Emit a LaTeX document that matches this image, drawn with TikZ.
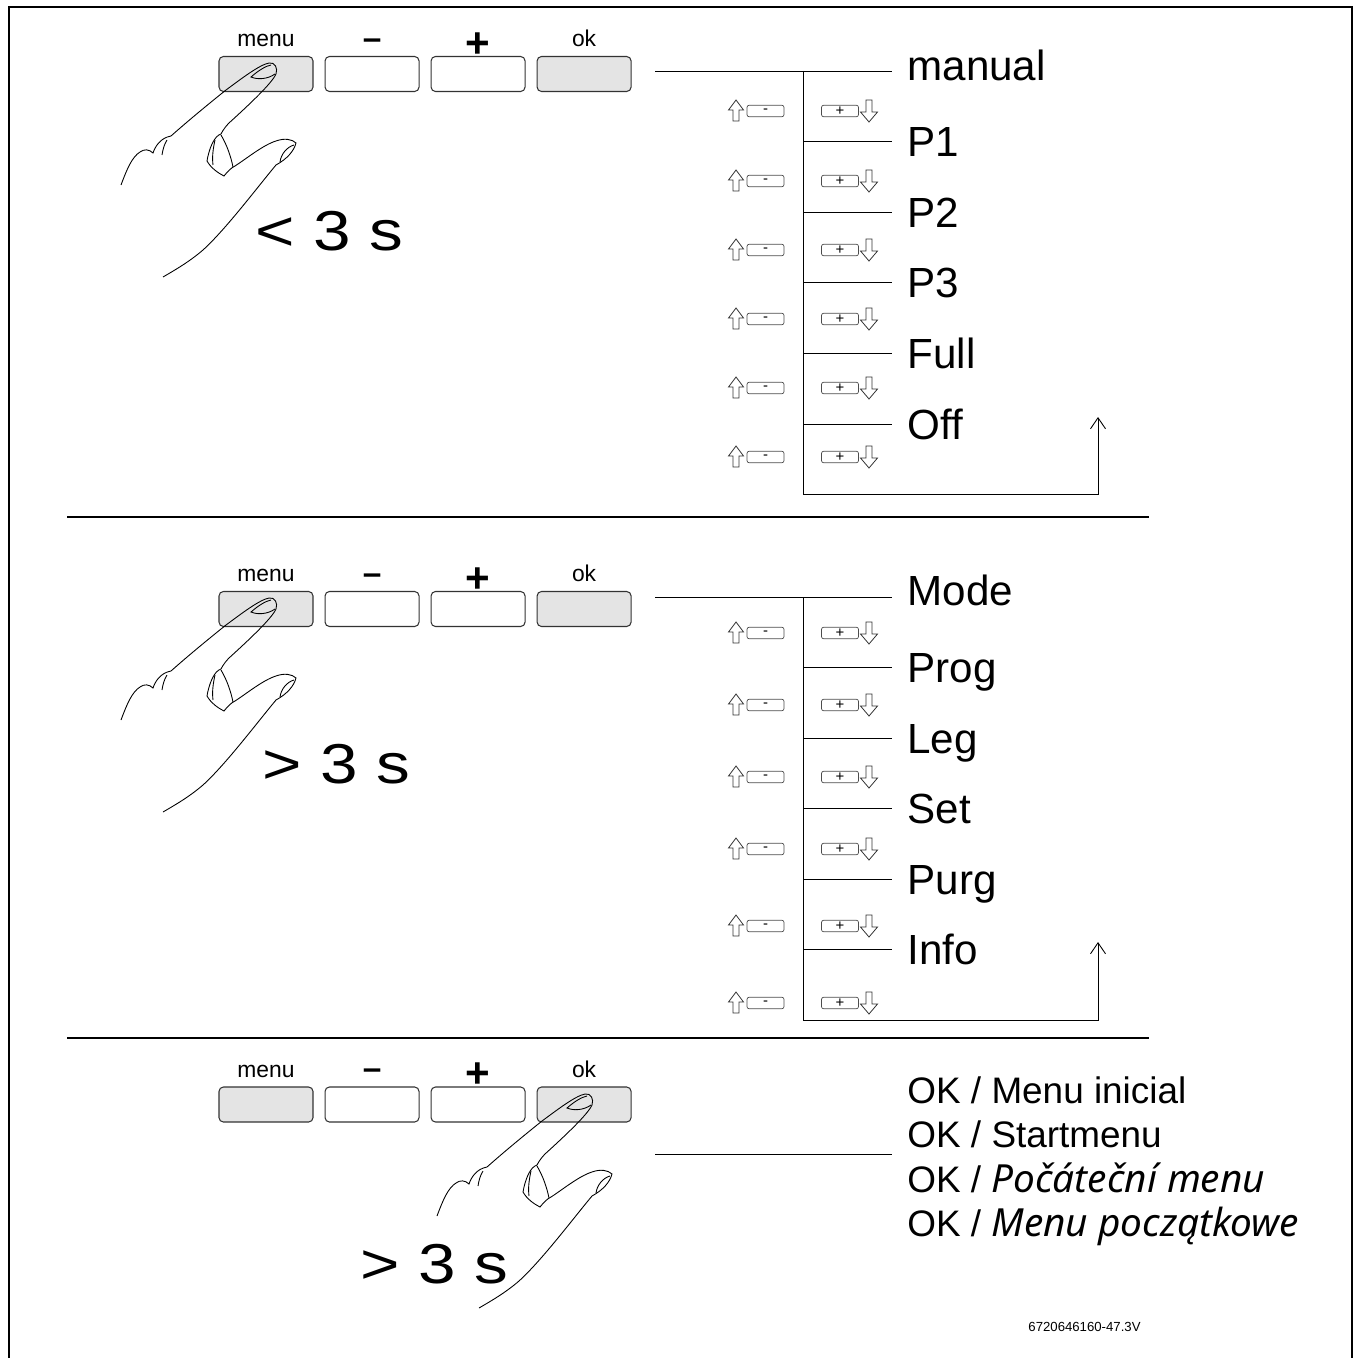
\documentclass[tikz,border=0pt]{standalone}
\usepackage{fontspec}
\setmainfont{Liberation Sans}
\newfontfamily\notosans{Noto Sans}[Scale=1.05]
\usetikzlibrary{arrows.meta,positioning}

\definecolor{keygrey}{RGB}{228,228,228}

\tikzset{
  btn/.style={draw=black!80, line width=0.6pt, rounded corners=2.5pt,
    minimum width=1.88cm, minimum height=0.70cm, inner sep=0pt},
  btnlbl/.style={anchor=base, inner sep=0pt, font=\fontsize{13}{13}\selectfont},
  btnminus/.style={inner sep=0pt, font=\fontsize{19}{19}\selectfont\bfseries},
  btnplus/.style={inner sep=0pt, font=\fontsize{24}{24}\selectfont\bfseries},
  minikey/.style={draw=black!70, line width=0.4pt, rounded corners=1.2pt, fill=white,
    minimum width=0.74cm, minimum height=0.23cm, inner sep=0pt,
    font=\fontsize{8.5}{8.5}\selectfont},
  hollow/.style={draw=black!80, line width=0.45pt, fill=white},
  item/.style={anchor=west, inner xsep=0.3cm, inner ysep=0pt,
    text height=17.2pt, text depth=0pt, font=\fontsize{24}{24}\selectfont},
  oktxt/.style={anchor=base west, inner xsep=0.3cm, inner ysep=0pt,
    font=\fontsize{21}{21}\selectfont},
  bigtime/.style={anchor=base west, inner sep=0pt, xscale=1.2, transform shape,
    font=\fontsize{32}{32}\selectfont},
  back/.style={-{Straight Barb[length=0.22cm,width=0.3cm]}},
  hand/.pic={
    % back of the hand and index finger
    \draw (-150,116) .. controls (-144,100) and (-139,88) .. (-131,83)
      .. controls (-127,80) and (-122,80) .. (-118,84)
      .. controls (-116,78) and (-111,69) .. (-100,67)
      .. controls (-82,51) and (-60,33) .. (-45,21)
      .. controls (-30,10) and (-12,-4) .. (-2,-6)
      .. controls (4,-7) and (7,-1) .. (5,5)
      .. controls (1,14) and (-20,34) .. (-42,54)
      .. controls (-45,57) and (-48,61) .. (-50,65);
    % nail
    \draw (4,5) .. controls (-3,10) and (-13,11) .. (-20,8)
      .. controls (-12,1) and (-5,-3) .. (0,-4);
    \draw (-104,71) .. controls (-107,76) and (-108,80) .. (-109,86);
    % folded finger, thumb and palm
    \draw (-50,65) .. controls (-57,67) and (-62,80) .. (-64,92)
      .. controls (-60,99) and (-53,104) .. (-47,107)
      .. controls (-43,102) and (-40,99) .. (-36,97)
      .. controls (-25,90) and (-8,76) .. (5,72)
      .. controls (13,69) and (21,70) .. (25,74)
      .. controls (23,82) and (16,90) .. (5,96)
      .. controls (-15,120) and (-45,160) .. (-68,181)
      .. controls (-82,193) and (-96,201) .. (-108,208);
    \draw (-50,66) .. controls (-44,76) and (-40,88) .. (-38,98);
    \draw (-56,71) .. controls (-58,80) and (-59,88) .. (-58,96);
    \draw (23,76) .. controls (16,78) and (10,85) .. (9,93);
  }
}

\begin{document}
\begin{tikzpicture}[x=0.02cm,y=-0.02cm,line width=0.5pt]
  \useasboundingbox (0,0) rectangle (1354,1358);
  \draw[line width=1.3pt] (9,1358) -- (9,7) -- (1352,7) -- (1352,1358);
  \draw[line width=1pt] (67,517) -- (1149,517);
  \draw[line width=1pt] (67,1038) -- (1149,1038);

  % ---------- short press on menu
  \node[btn, fill=keygrey] (menuA) at (266,74) {};
  \node[btn, right=0.22cm of menuA] (minusA) {};
  \node[btn, right=0.22cm of minusA] (plusA) {};
  \node[btn, fill=keygrey, right=0.22cm of plusA] (okA) {};
  \node[btnlbl] (menuAl) at ([yshift=0.18cm]menuA.north) {menu};
  \node[btnminus] (minusAl) at ([yshift=0.24cm]minusA.north) {–};
  \node[btnplus] (plusAl) at ([yshift=0.22cm]plusA.north) {+};
  \node[btnlbl] (okAl) at ([yshift=0.18cm]okA.north) {ok};
  \pic at (271,69) {hand};
  \node[bigtime] (tA) at (255,251) {< 3 s};

  \coordinate (inA) at (655,71);
  \coordinate (topA) at (803,71);
  \coordinate (botA) at (803,494.6);
  \coordinate (retA) at (1098,417);
  \foreach \t [count=\i from 0] in {manual,P1,P2,P3,Full,Off}{
    \pgfmathsetmacro\yy{71+70.6*\i-(\i==0)*6}
    \node[item] (a\i) at (892,\yy) {\t};
  }
  \draw (inA) -- (inA -| a0.west);
  \foreach \i in {1,...,5} \draw (topA |- a\i.west) -- (a\i.west);
  \draw[back] (topA) -- (botA) -| (retA);
  \foreach \y in {111,181,250,319,388,457}{
    \draw[hollow] (736,\y-11) -- (743.5,\y-1) -- (739,\y-1) -- (739,\y+10)
      -- (733,\y+10) -- (733,\y-1) -- (728.5,\y-1) -- cycle;
    \node[minikey] (decA\y) at (765.5,\y) {-};
    \node[minikey] (incA\y) at (840,\y) {+};
    \draw[hollow] (866,\y-11) -- (872,\y-11) -- (872,\y+1) -- (877.5,\y+1)
      -- (869,\y+11) -- (860.5,\y+1) -- (866,\y+1) -- cycle;
  }

  % ---------- long press on menu
  \node[btn, fill=keygrey] (menuB) at (266,609) {};
  \node[btn, right=0.22cm of menuB] (minusB) {};
  \node[btn, right=0.22cm of minusB] (plusB) {};
  \node[btn, fill=keygrey, right=0.22cm of plusB] (okB) {};
  \node[btnlbl] (menuBl) at ([yshift=0.18cm]menuB.north) {menu};
  \node[btnminus] (minusBl) at ([yshift=0.24cm]minusB.north) {–};
  \node[btnplus] (plusBl) at ([yshift=0.22cm]plusB.north) {+};
  \node[btnlbl] (okBl) at ([yshift=0.18cm]okB.north) {ok};
  \pic at (271,604) {hand};
  \node[bigtime] (tB) at (262,783) {> 3 s};

  \coordinate (inB) at (655,597);
  \coordinate (topB) at (803,597);
  \coordinate (botB) at (803,1020);
  \coordinate (retB) at (1098,942);
  \foreach \t [count=\i from 0] in {Mode,Prog,Leg,Set,Purg,Info}{
    \pgfmathsetmacro\yy{597+70.5*\i-(\i==0)*7}
    \node[item] (b\i) at (892,\yy) {\t};
  }
  \draw (inB) -- (inB -| b0.west);
  \foreach \i in {1,...,5} \draw (topB |- b\i.west) -- (b\i.west);
  \draw[back] (topB) -- (botB) -| (retB);
  \foreach \y in {633,705,777,849,926,1003}{
    \draw[hollow] (736,\y-11) -- (743.5,\y-1) -- (739,\y-1) -- (739,\y+10)
      -- (733,\y+10) -- (733,\y-1) -- (728.5,\y-1) -- cycle;
    \node[minikey] (decB\y) at (765.5,\y) {-};
    \node[minikey] (incB\y) at (840,\y) {+};
    \draw[hollow] (866,\y-11) -- (872,\y-11) -- (872,\y+1) -- (877.5,\y+1)
      -- (869,\y+11) -- (860.5,\y+1) -- (866,\y+1) -- cycle;
  }

  % ---------- long press on ok
  \node[btn, fill=keygrey] (menuC) at (266,1104.5) {};
  \node[btn, right=0.22cm of menuC] (minusC) {};
  \node[btn, right=0.22cm of minusC] (plusC) {};
  \node[btn, fill=keygrey, right=0.22cm of plusC] (okC) {};
  \node[btnlbl] (menuCl) at ([yshift=0.18cm]menuC.north) {menu};
  \node[btnminus] (minusCl) at ([yshift=0.24cm]minusC.north) {–};
  \node[btnplus] (plusCl) at ([yshift=0.22cm]plusC.north) {+};
  \node[btnlbl] (okCl) at ([yshift=0.18cm]okC.north) {ok};
  \pic at (587,1100) {hand};
  \node[bigtime] (tC) at (360,1283) {> 3 s};

  \coordinate (inC) at (655,1154);
  \node[oktxt] (ok1) at (892,1103) {OK / Menu inicial};
  \node[oktxt] (ok2) at (892,1147) {OK / Startmenu};
  \node[oktxt] (ok3) at (892,1192) {OK / {\notosans\itshape Počáteční menu}};
  \node[oktxt] (ok4) at (892,1236) {OK / {\notosans\itshape Menu początkowe}};
  \draw (inC) -- (inC -| ok1.west);

  \node[anchor=base west, inner sep=0pt, font=\fontsize{7.5}{7.5}\selectfont]
    (figno) at (1028,1331) {6720646160-47.3V};
\end{tikzpicture}
\end{document}
